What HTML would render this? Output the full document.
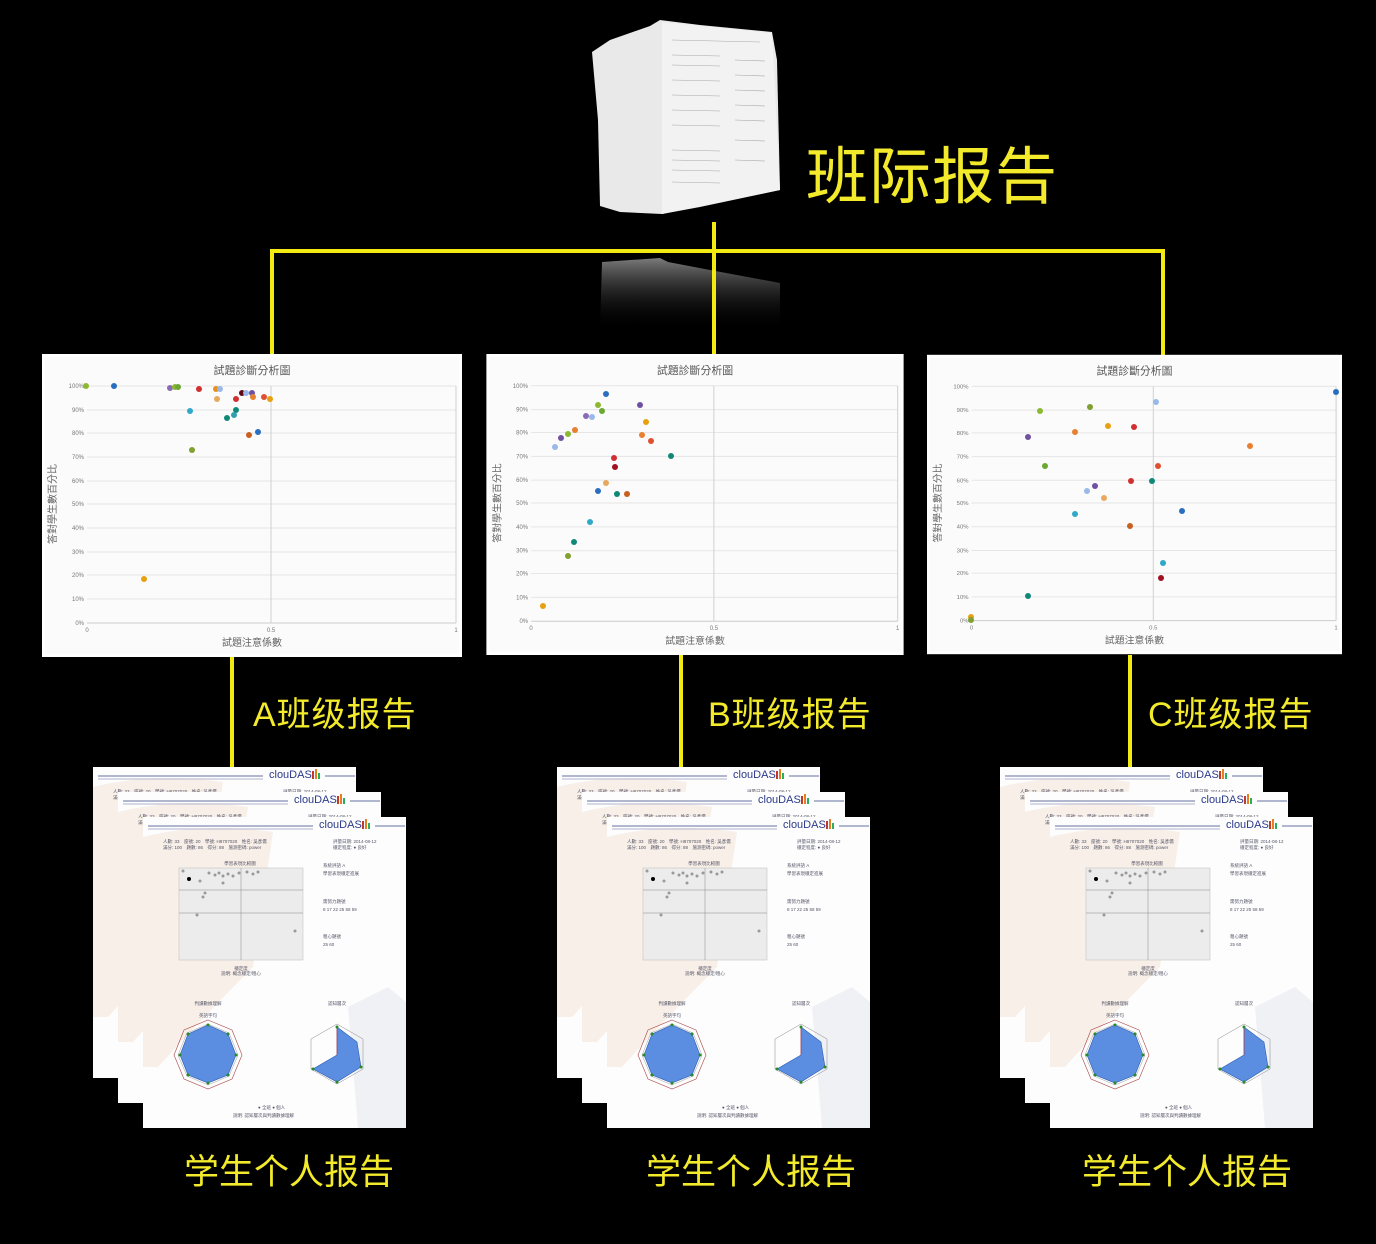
<!DOCTYPE html>
<html><head><meta charset="utf-8"><style>
html,body{margin:0;padding:0;background:#000;}
body{width:1376px;height:1244px;position:relative;overflow:hidden;font-family:"Liberation Sans","Noto Sans CJK SC",sans-serif;}
.t{position:absolute;color:#f2ea2a;white-space:nowrap;line-height:1;}
</style></head><body>
<svg width="1376" height="1244" viewBox="0 0 1376 1244" style="position:absolute;left:0;top:0">
<defs>
<linearGradient id="refl" x1="0" y1="0" x2="0" y2="1">
<stop offset="0" stop-color="#9a9a9a" stop-opacity="0.8"/><stop offset="1" stop-color="#000" stop-opacity="0"/>
</linearGradient>
<symbol id="chart" viewBox="0 0 420 303">
<rect x="0" y="0" width="420" height="303" fill="#fff"/>
<rect x="3" y="3" width="414" height="297" fill="#fbfbfb"/>
<text x="210" y="20" font-size="11" fill="#555" text-anchor="middle" font-family="Noto Sans CJK TC,sans-serif">試題診斷分析圖</text>
<g stroke="#e6e6e6" stroke-width="1">
<line x1="45" y1="32" x2="414" y2="32"/><line x1="45" y1="56" x2="414" y2="56"/><line x1="45" y1="79" x2="414" y2="79"/><line x1="45" y1="103" x2="414" y2="103"/><line x1="45" y1="127" x2="414" y2="127"/><line x1="45" y1="150" x2="414" y2="150"/><line x1="45" y1="174" x2="414" y2="174"/><line x1="45" y1="198" x2="414" y2="198"/><line x1="45" y1="221" x2="414" y2="221"/><line x1="45" y1="245" x2="414" y2="245"/>
</g>
<line x1="229" y1="32" x2="229" y2="269" stroke="#d0d0d0"/>
<line x1="414" y1="32" x2="414" y2="269" stroke="#d0d0d0"/>
<line x1="45" y1="269" x2="414" y2="269" stroke="#ccc"/>
<g font-size="6" fill="#777" text-anchor="end">
<text x="42" y="34">100%</text><text x="42" y="58">90%</text><text x="42" y="81">80%</text><text x="42" y="105">70%</text><text x="42" y="129">60%</text><text x="42" y="152">50%</text><text x="42" y="176">40%</text><text x="42" y="200">30%</text><text x="42" y="223">20%</text><text x="42" y="247">10%</text><text x="42" y="271">0%</text>
</g>
<g font-size="6" fill="#777" text-anchor="middle"><text x="45" y="278">0</text><text x="229" y="278">0.5</text><text x="414" y="278">1</text></g>
<text x="210" y="292" font-size="10" fill="#666" text-anchor="middle" font-family="Noto Sans CJK TC,sans-serif">試題注意係數</text>
<text transform="translate(14,150) rotate(-90)" font-size="10" fill="#666" text-anchor="middle" font-family="Noto Sans CJK TC,sans-serif">答對學生數百分比</text>
</symbol>
<symbol id="page" viewBox="0 0 263 311">
<rect width="263" height="311" fill="#fdfdfe"/>
<path d="M0 20 Q60 5 130 15 L110 150 Q60 200 15 250 L0 250 Z" fill="#f7efe8"/>
<path d="M205 190 L245 170 L263 185 L263 311 L215 311 Z" fill="#f0f1f5"/>
<line x1="5" y1="9" x2="170" y2="9" stroke="#9aa0c0" stroke-width="1.5"/>
<line x1="5" y1="12" x2="170" y2="12" stroke="#b0b4cc" stroke-width="1"/>
<text x="176" y="11" font-size="11" fill="#2a3a8a" font-family="Liberation Sans,sans-serif">clouDAS</text>
<rect x="219" y="4" width="2" height="8" fill="#c0392b"/><rect x="222" y="2" width="2" height="10" fill="#e67e22"/><rect x="225" y="6" width="2" height="6" fill="#27ae60"/>
<line x1="232" y1="9" x2="262" y2="9" stroke="#9aa0c0" stroke-width="1.5"/>
<g font-size="4.5" fill="#556"><text x="20" y="26">人數: 33　座號: 20　學號: H8707020　姓名: 吳彥儒</text><text x="190" y="26">評量日期: 2014-08-12</text><text x="20" y="32">滿分: 100　題數: 86　得分: 88　施測密碼: power</text><text x="190" y="32">穩定程度: ● 良好</text></g>
<text x="97" y="48" font-size="4.5" fill="#556" text-anchor="middle">學習表現比較圖</text>
<rect x="36" y="51" width="124" height="92" fill="#ececec" stroke="#bbb" stroke-width="0.5"/>
<line x1="98" y1="51" x2="98" y2="143" stroke="#888" stroke-width="0.5"/>
<line x1="36" y1="73" x2="160" y2="73" stroke="#888" stroke-width="0.5"/>
<line x1="36" y1="96" x2="160" y2="96" stroke="#888" stroke-width="0.5"/>
<g fill="#999"><circle cx="40" cy="54" r="1.5"/><circle cx="66" cy="56" r="1.5"/><circle cx="72" cy="58" r="1.5"/><circle cx="76" cy="56" r="1.5"/><circle cx="80" cy="59" r="1.5"/><circle cx="85" cy="57" r="1.5"/><circle cx="90" cy="59" r="1.5"/><circle cx="96" cy="56" r="1.5"/><circle cx="104" cy="55" r="1.5"/><circle cx="110" cy="57" r="1.5"/><circle cx="115" cy="55" r="1.5"/><circle cx="57" cy="64" r="1.5"/><circle cx="80" cy="66" r="1.5"/><circle cx="60" cy="80" r="1.5"/><circle cx="62" cy="76" r="1.5"/><circle cx="54" cy="98" r="1.5"/><circle cx="152" cy="114" r="1.5"/></g>
<circle cx="46" cy="62" r="2" fill="#000"/>
<g font-size="4.5" fill="#556"><text x="180" y="50">系統評語 A</text><text x="180" y="58">學習表現穩定進展</text><text x="180" y="86">需努力題號</text><text x="180" y="94">8 17 22 25 58 59</text><text x="180" y="121">粗心題號</text><text x="180" y="129">25 60</text><text x="98" y="153" text-anchor="middle">穩定度</text><text x="98" y="158" text-anchor="middle">說明: 概念穩定/粗心</text></g>
<g fill="none" stroke="#a44" stroke-width="0.6"><polygon points="65,203 89,213 99,238 89,262 65,272 41,262 31,238 41,213"/></g>
<g fill="none" stroke="#888" stroke-width="0.4"><polygon points="65,207 86,216 95,238 86,259 65,268 44,259 35,238 44,216"/></g>
<polygon points="65,208 85,217 93,238 85,258 65,266 45,258 37,238 45,217" fill="#5b8ee0" stroke="#2a5ab0" stroke-width="0.6"/>
<g fill="#2a8a2a"><circle cx="65" cy="208" r="1.5"/><circle cx="85" cy="217" r="1.5"/><circle cx="93" cy="238" r="1.5"/><circle cx="85" cy="258" r="1.5"/><circle cx="65" cy="266" r="1.5"/><circle cx="45" cy="258" r="1.5"/><circle cx="37" cy="238" r="1.5"/><circle cx="45" cy="217" r="1.5"/></g>
<polygon points="194,207 220,222 220,252 194,267 168,252 168,222" fill="none" stroke="#888" stroke-width="0.5"/>
<polygon points="194,210 214,225 218,250 194,265 170,252 194,238" fill="#5b8ee0" stroke="#2a5ab0" stroke-width="0.6"/>
<line x1="194" y1="210" x2="194" y2="238" stroke="#c33" stroke-width="0.6"/>
<g fill="#2a8a2a"><circle cx="194" cy="210" r="1.5"/><circle cx="218" cy="250" r="1.5"/><circle cx="194" cy="265" r="1.5"/><circle cx="170" cy="252" r="1.5"/></g>
<g font-size="4.5" fill="#556"><text x="65" y="188" text-anchor="middle">判讀數據理解</text><text x="65" y="200" text-anchor="middle">英語字句</text><text x="194" y="188" text-anchor="middle">認知層次</text><text x="115" y="292">● 全班 ● 個人</text><text x="90" y="300">說明: 認知層次與判讀數據理解</text></g>
</symbol>
</defs>

<!-- paper stack -->
<polygon points="592,52 610,40 650,26 660,20 700,25 772,32 777,60 780,190 700,207 662,214 620,212 600,206 598,120" fill="#e9e9e9"/>
<polygon points="662,22 772,33 780,190 662,214" fill="#f2f2f2"/>
<g stroke="#888" stroke-width="0.6" opacity="0.7">
<line x1="672" y1="40" x2="760" y2="42"/><line x1="672" y1="55" x2="720" y2="56"/><line x1="672" y1="65" x2="720" y2="66"/><line x1="672" y1="80" x2="720" y2="81"/><line x1="672" y1="95" x2="720" y2="96"/><line x1="672" y1="110" x2="720" y2="111"/><line x1="672" y1="125" x2="720" y2="126"/><line x1="672" y1="150" x2="720" y2="151"/><line x1="672" y1="160" x2="720" y2="161"/><line x1="672" y1="170" x2="720" y2="171"/><line x1="672" y1="182" x2="720" y2="183"/>
<line x1="735" y1="60" x2="765" y2="61"/><line x1="735" y1="75" x2="765" y2="76"/><line x1="735" y1="90" x2="765" y2="91"/><line x1="735" y1="105" x2="765" y2="106"/><line x1="735" y1="120" x2="765" y2="121"/><line x1="735" y1="140" x2="765" y2="141"/><line x1="735" y1="160" x2="765" y2="161"/>
</g>
<polygon points="602,262 660,258 668,262 710,270 780,283 780,330 600,330" fill="url(#refl)"/>

<!-- connectors -->
<g stroke="#f2ea10" stroke-width="4" fill="none">
<line x1="272" y1="251" x2="1163" y2="251"/>
<line x1="714" y1="222" x2="714" y2="355"/>
<line x1="272" y1="249" x2="272" y2="355"/>
<line x1="1163" y1="249" x2="1163" y2="355"/>
<line x1="232" y1="655" x2="232" y2="768"/>
<line x1="681" y1="655" x2="681" y2="768"/>
<line x1="1130" y1="655" x2="1130" y2="768"/>
</g>

<!-- charts -->
<use href="#chart" x="41" y="354" width="422" height="303"/>
<use href="#chart" x="486" y="354" width="418" height="301"/>
<use href="#chart" x="927" y="354" width="415" height="301"/>

<g>
<circle cx="86" cy="386" r="3" fill="#8cb832"/><circle cx="114" cy="386" r="3" fill="#2a6ec0"/><circle cx="170" cy="388" r="3" fill="#8a6bb8"/><circle cx="175" cy="387" r="3" fill="#8cb832"/><circle cx="178" cy="387" r="3" fill="#6aa832"/><circle cx="199" cy="389" r="3" fill="#d03030"/><circle cx="216" cy="389" r="3" fill="#e8901a"/><circle cx="220" cy="389" r="3" fill="#9ab8e8"/><circle cx="217" cy="399" r="3" fill="#e8a860"/><circle cx="236" cy="399" r="3" fill="#d03030"/><circle cx="242" cy="393" r="3" fill="#600818"/><circle cx="246" cy="393" r="3" fill="#9ab8e8"/><circle cx="252" cy="393" r="3" fill="#7050a0"/><circle cx="253" cy="397" r="3" fill="#e88030"/><circle cx="264" cy="397" r="3" fill="#e05030"/><circle cx="270" cy="399" r="3" fill="#e8a010"/><circle cx="190" cy="411" r="3" fill="#30a8c8"/><circle cx="236" cy="410" r="3" fill="#108878"/><circle cx="234" cy="415" r="3" fill="#30a0b0"/><circle cx="227" cy="418" r="3" fill="#108878"/><circle cx="249" cy="435" r="3" fill="#c86020"/><circle cx="258" cy="432" r="3" fill="#2a6ec0"/><circle cx="192" cy="450" r="3" fill="#80a030"/><circle cx="144" cy="579" r="3" fill="#e8a010"/>
</g>
<g>
<circle cx="543" cy="606" r="3" fill="#e8a010"/><circle cx="568" cy="556" r="3" fill="#80a030"/><circle cx="574" cy="542" r="3" fill="#108878"/><circle cx="590" cy="522" r="3" fill="#30a8c8"/><circle cx="598" cy="491" r="3" fill="#2a6ec0"/><circle cx="606" cy="483" r="3" fill="#e8a860"/><circle cx="617" cy="494" r="3" fill="#108878"/><circle cx="627" cy="494" r="3" fill="#c86020"/><circle cx="615" cy="467" r="3" fill="#a01020"/><circle cx="614" cy="458" r="3" fill="#d03030"/><circle cx="555" cy="447" r="3" fill="#9ab8e8"/><circle cx="561" cy="438" r="3" fill="#7050a0"/><circle cx="568" cy="434" r="3" fill="#8cb832"/><circle cx="575" cy="430" r="3" fill="#e88030"/><circle cx="586" cy="416" r="3" fill="#8a6bb8"/><circle cx="592" cy="417" r="3" fill="#9ab8e8"/><circle cx="598" cy="405" r="3" fill="#8cb832"/><circle cx="602" cy="411" r="3" fill="#6aa832"/><circle cx="606" cy="394" r="3" fill="#2a6ec0"/><circle cx="640" cy="405" r="3" fill="#7050a0"/><circle cx="646" cy="422" r="3" fill="#e8a010"/><circle cx="642" cy="435" r="3" fill="#e88030"/><circle cx="651" cy="441" r="3" fill="#e05030"/><circle cx="671" cy="456" r="3" fill="#108878"/>
</g>
<g>
<circle cx="971" cy="617" r="3" fill="#e8a010"/><circle cx="971" cy="620" r="3" fill="#80a030"/><circle cx="1028" cy="596" r="3" fill="#108878"/><circle cx="1040" cy="411" r="3" fill="#8cb832"/><circle cx="1028" cy="437" r="3" fill="#7050a0"/><circle cx="1045" cy="466" r="3" fill="#6aa832"/><circle cx="1075" cy="432" r="3" fill="#e88030"/><circle cx="1090" cy="407" r="3" fill="#80a030"/><circle cx="1108" cy="426" r="3" fill="#e8a010"/><circle cx="1134" cy="427" r="3" fill="#d03030"/><circle cx="1087" cy="491" r="3" fill="#9ab8e8"/><circle cx="1095" cy="486" r="3" fill="#7050a0"/><circle cx="1104" cy="498" r="3" fill="#e8a860"/><circle cx="1075" cy="514" r="3" fill="#30a8c8"/><circle cx="1131" cy="481" r="3" fill="#d03030"/><circle cx="1152" cy="481" r="3" fill="#108878"/><circle cx="1158" cy="466" r="3" fill="#e05030"/><circle cx="1130" cy="526" r="3" fill="#c86020"/><circle cx="1163" cy="563" r="3" fill="#30a8c8"/><circle cx="1161" cy="578" r="3" fill="#a01020"/><circle cx="1182" cy="511" r="3" fill="#2a6ec0"/><circle cx="1156" cy="402" r="3" fill="#9ab8e8"/><circle cx="1250" cy="446" r="3" fill="#e88030"/><circle cx="1336" cy="392" r="3" fill="#2a6ec0"/>
</g>

<!-- report stacks -->
<use href="#page" x="93" y="767" width="263" height="311"/>
<use href="#page" x="118" y="792" width="263" height="311"/>
<use href="#page" x="143" y="817" width="263" height="311"/>
<use href="#page" x="557" y="767" width="263" height="311"/>
<use href="#page" x="582" y="792" width="263" height="311"/>
<use href="#page" x="607" y="817" width="263" height="311"/>
<use href="#page" x="1000" y="767" width="263" height="311"/>
<use href="#page" x="1025" y="792" width="263" height="311"/>
<use href="#page" x="1050" y="817" width="263" height="311"/>
</svg>

<div class="t" style="left:806px;top:147px;font-size:62px;letter-spacing:1px;">班际报告</div>
<div class="t" style="left:253px;top:698px;font-size:34px;letter-spacing:1px;">A班级报告</div>
<div class="t" style="left:708px;top:698px;font-size:34px;letter-spacing:1px;">B班级报告</div>
<div class="t" style="left:1148px;top:698px;font-size:34px;letter-spacing:1px;">C班级报告</div>
<div class="t" style="left:184px;top:1155px;font-size:35px;">学生个人报告</div>
<div class="t" style="left:646px;top:1155px;font-size:35px;">学生个人报告</div>
<div class="t" style="left:1082px;top:1155px;font-size:35px;">学生个人报告</div>
</body></html>
